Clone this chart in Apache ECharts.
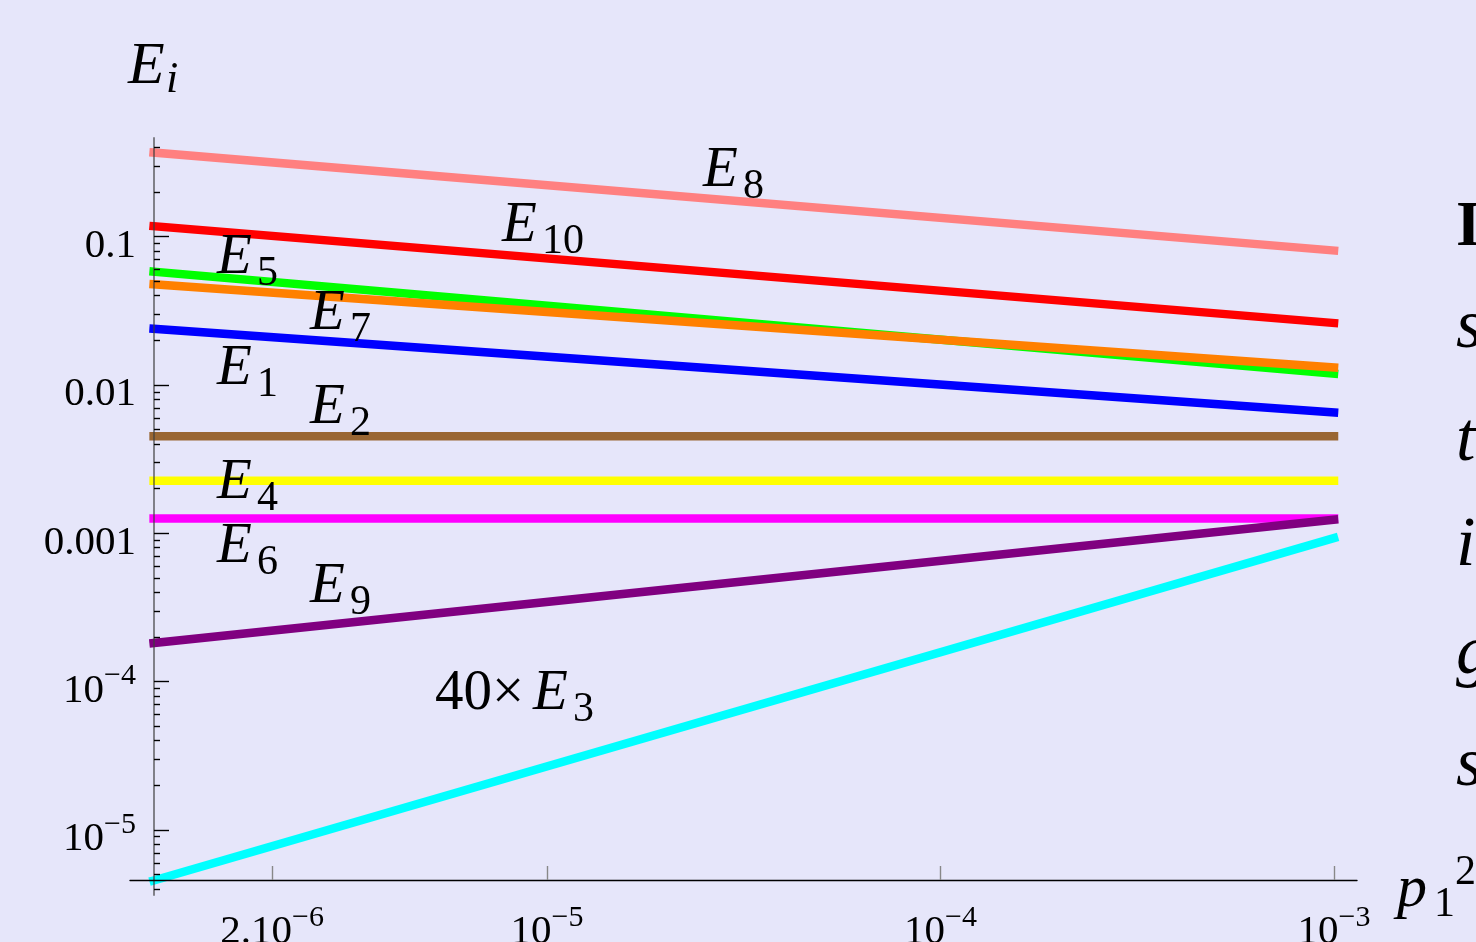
<!DOCTYPE html>
<html><head><meta charset="utf-8">
<script src="https://cdn.jsdelivr.net/npm/echarts@6/dist/echarts.min.js"></script>
<style>html,body{margin:0;padding:0;background:#E6E6FA;overflow:hidden}#c{width:1476px;height:942px}</style>
</head><body><div id="c"></div>
<script>
// ---- data ----
const xEnds = [1e-6, 1e-3];
const seriesNames = ['E1','E2','40×E3','E4','E5','E6','E7','E8','E9','E10'];
const E1  = [0.02393, 0.006526];
const E2  = [0.004517, 0.004517];
const E3x40 = [4.56e-6, 9.30e-4];
const E4  = [0.002263, 0.002263];
const E5  = [0.05808, 0.01195];
const E6  = [0.001259, 0.001259];
const E7  = [0.04775, 0.01312];
const E8  = [0.3697, 0.0807];
const E9  = [1.82e-4, 0.001234];
const E10 = [0.1177, 0.02618];
const seriesValues = [E1,E2,E3x40,E4,E5,E6,E7,E8,E9,E10];
const seriesColors = ['#0000FF','#996633','#00FFFF','#FFFF00','#00FF00','#FF00FF','#FF8000','#FF8080','#800080','#FF0000'];

const xTickValues = [2e-6, 1e-5, 1e-4, 1e-3];
const xTickLabels = [['2.10','−6'],['10','−5'],['10','−4'],['10','−3']];
const yTickValues = [0.1, 0.01, 0.001, 1e-4, 1e-5];
const yTickLabels = [['0.1',''],['0.01',''],['0.001',''],['10','−4'],['10','−5']];
const minorMult = [2,3,4,5,6,7,8,9];
const minorDecades = [1e-6,1e-5,1e-4,1e-3,1e-2,1e-1];

const X_MIN = 8.71e-7, X_MAX = 1.144e-3, Y_MIN = 3.64e-6, Y_MAX = 0.463;
const yMinor = [];
minorDecades.forEach(d => minorMult.forEach(m => { const v = m*d; if (v > Y_MIN && v < Y_MAX) yMinor.push(v); }));

const FONT = 'Liberation Serif';
function labelFor(values, labels, v) {
  let best = 0, bd = Infinity;
  values.forEach((t,i) => { const d = Math.abs(Math.log10(t) - Math.log10(v)); if (d < bd) { bd = d; best = i; } });
  const l = labels[best];
  return l[1] ? '{b|' + l[0] + '}{s|' + l[1] + '}' : '{b|' + l[0] + '}';
}
const richTick = {
  b: {fontSize: 41, fontFamily: FONT, color: '#000', lineHeight: 60, verticalAlign: 'bottom'},
  s: {fontSize: 30, fontFamily: FONT, color: '#000', lineHeight: 43, verticalAlign: 'top', padding: [10, 0, 0, 0]}
};

const series = seriesValues.map((vals, i) => ({
  name: seriesNames[i], type: 'line', symbol: 'none', silent: true, animation: false,
  data: xEnds.map((x, j) => [x, vals[j]]),
  lineStyle: {color: seriesColors[i], width: 8.5, cap: 'square'}, z: 2
}));

// annotations (layout)
function T(x, y, text, fs, italic, bold) {
  return {type:'text', x:x, y:y, z:100, silent:true, style:{text:text, fontSize:fs, fontFamily:FONT,
    fontStyle: italic ? 'italic' : 'normal', fontWeight: bold ? 'bold' : 'normal', fill:'#000', verticalAlign:'middle', align:'left'}};
}
function Elab(x, y, sub) {
  return [T(x, y, 'E', 57, true), T(x + 40, y + 16, sub, 42, false)];
}
const graphic = [].concat(
  [T(128, 67, 'E', 60, true), T(166, 80, 'i', 44, true)],
  Elab(703, 171, '8'),
  Elab(502, 226, '10'),
  Elab(217, 258, '5'),
  Elab(310, 314, '7'),
  Elab(217, 369, '1'),
  Elab(310, 408, '2'),
  Elab(217, 483, '4'),
  Elab(217, 547, '6'),
  Elab(310, 587, '9'),
  [T(435, 694, '40×', 57, false)],
  Elab(533, 694, '3'),
  [T(1397, 890, 'p', 60, true), T(1434, 905, '1', 42, false), T(1455, 873, '2', 42, false)],
  [T(1456, 228, 'I', 64, false, true), T(1456, 329, 's', 70, true), T(1456, 442, 't', 70, true),
   T(1456, 547, 'i', 70, true), T(1456, 655, 'g', 70, true), T(1456, 767, 's', 70, true)]
);

const chart = echarts.init(document.getElementById('c'), null, {renderer:'canvas'});
chart.setOption({
  backgroundColor: '#E6E6FA',
  animation: false,
  grid: {left: 130, right: 119, top: 138, bottom: 47, containLabel: false, outerBoundsMode: 'none'},
  xAxis: {
    type: 'log', logBase: 10, min: X_MIN, max: X_MAX, offset: -15, z: 3,
    axisLine: {onZero: false, lineStyle: {color: '#000', width: 1.4}},
    axisTick: {inside: true, length: 14, customValues: xTickValues, lineStyle: {color: '#888', width: 1.4}},
    axisLabel: {customValues: xTickValues, margin: 13, formatter: v => labelFor(xTickValues, xTickLabels, v), rich: richTick},
    splitLine: {show: false}
  },
  yAxis: [{
    type: 'log', logBase: 10, min: Y_MIN, max: Y_MAX, offset: -24, z: 3,
    axisLine: {onZero: false, lineStyle: {color: 'rgba(60,60,60,0.6)', width: 2}},
    axisTick: {inside: true, length: 15, customValues: yTickValues, lineStyle: {color: '#000', width: 1.4}},
    axisLabel: {customValues: yTickValues, margin: 18, formatter: v => labelFor(yTickValues, yTickLabels, v), rich: richTick},
    splitLine: {show: false}
  }, {
    type: 'log', logBase: 10, min: Y_MIN, max: Y_MAX, offset: -24, position: 'left', z: 3,
    axisLine: {show: false},
    axisTick: {inside: true, length: 6, customValues: yMinor, lineStyle: {color: '#000', width: 1.4}},
    axisLabel: {show: false},
    splitLine: {show: false}
  }],
  series: series,
  graphic: graphic
});
</script>
</body></html>
